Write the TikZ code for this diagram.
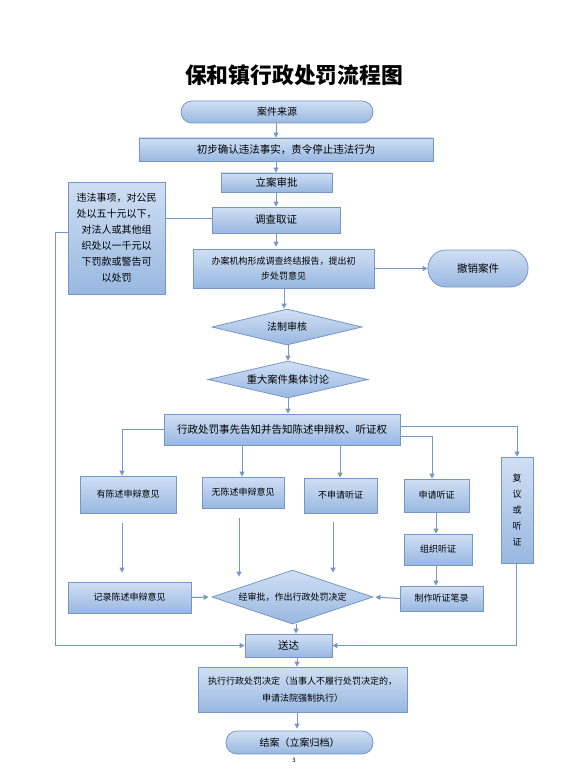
\documentclass[tikz,border=0pt]{standalone}
\usepackage{fontspec}
\setmainfont{Noto Sans CJK SC}
\usetikzlibrary{arrows.meta,shapes.geometric}
\definecolor{boxtop}{RGB}{208,223,243}
\definecolor{boxbot}{RGB}{152,184,225}
\definecolor{edgec}{RGB}{118,150,198}
\newcommand{\fs}[2]{\fontsize{#1}{#2}\selectfont}
\begin{document}
\begin{tikzpicture}[x=1pt,y=-1pt,
  box/.style={draw=edgec, line width=0.8pt, top color=boxtop, bottom color=boxbot, inner sep=0pt, align=center, font=\fs{9}{15}},
  pill/.style={box, rounded corners=11pt},
  dia/.style={box, diamond, aspect=3},
  arr/.style={draw=edgec, line width=1pt, -{Triangle[length=5pt,width=5pt]}},
  ln/.style={draw=edgec, line width=1pt}]
\useasboundingbox (0,0) rectangle (585,770);
\fill[white] (0,0) rectangle (585,770);

% title
\node[font=\fs{21.8}{24}\bfseries] (title) at (294,75) {保和镇行政处罚流程图};

% main column
\node[pill, minimum width=192pt, minimum height=22pt, font=\fs{10}{12}] (src) at (277,112) {案件来源};
\node[box, minimum width=294pt, minimum height=23pt, font=\fs{10.5}{12}] (s1) at (286,149.5) {初步确认违法事实，责令停止违法行为};
\node[box, minimum width=111pt, minimum height=19pt, font=\fs{10.5}{12}] (s2) at (276.5,182.5) {立案审批};
\node[box, minimum width=128pt, minimum height=26pt, font=\fs{10.5}{12}] (s3) at (276,220) {调查取证};
\node[box, minimum width=97pt, minimum height=112pt, font=\fs{10}{16}] (note) at (116.5,238) {违法事项，对公民\\处以五十元以下，\\对法人或其他组\\织处以一千元以\\下罚款或警告可\\以处罚};
\node[box, minimum width=181pt, minimum height=39pt, font=\fs{9}{15}] (s4) at (283.5,268.5) {办案机构形成调查终结报告，提出初\\步处罚意见};
\node[box, rounded corners=18pt, minimum width=100pt, minimum height=37pt, font=\fs{10.5}{12}] (cancel) at (478,268.5) {撤销案件};
\node[dia, minimum width=150pt, minimum height=36pt, font=\fs{10}{12}] (d1) at (287,327) {法制审核};
\node[dia, minimum width=160pt, minimum height=37pt, font=\fs{10.3}{12}] (d2) at (288,379.5) {重大案件集体讨论};
\node[box, minimum width=236pt, minimum height=31pt, font=\fs{10.5}{12}] (s5) at (282,429.5) {行政处罚事先告知并告知陈述申辩权、听证权};

% branches
\node[box, minimum width=96pt, minimum height=37pt] (b1) at (128,494.5) {有陈述申辩意见};
\node[box, minimum width=82pt, minimum height=31pt] (b2) at (243,492.5) {无陈述申辩意见};
\node[box, minimum width=73pt, minimum height=35pt] (b3) at (340.5,495.5) {不申请听证};
\node[box, minimum width=65pt, minimum height=33pt] (b4) at (436.5,495.5) {申请听证};
\node[box, minimum width=32pt, minimum height=106pt, font=\fs{9}{16}] (b5) at (517,510) {复\\议\\或\\听\\证};
\node[box, minimum width=68pt, minimum height=31pt] (b6) at (438,549.5) {组织听证};
\node[box, minimum width=83pt, minimum height=25pt] (b7) at (441.5,598.5) {制作听证笔录};
\node[box, minimum width=123pt, minimum height=31pt] (b8) at (129.5,597.5) {记录陈述申辩意见};
\node[dia, minimum width=161pt, minimum height=54pt] (d3) at (292.5,597) {经审批，作出行政处罚决定};

% bottom
\node[box, minimum width=87pt, minimum height=23pt, font=\fs{10.5}{12}] (s6) at (288.5,645.5) {送达};
\node[box, minimum width=209pt, minimum height=45pt, font=\fs{9}{17}] (s7) at (302.5,689.5) {执行行政处罚决定（当事人不履行处罚决定的，\\申请法院强制执行）};
\node[pill, minimum width=147pt, minimum height=23pt, font=\fs{10}{12}] (end) at (299.5,742.5) {结案（立案归档）};
\node[font=\fs{6}{7}] (pg) at (294,760) {3};

% helper coordinates
\coordinate (xa) at (276,0);
\coordinate (xb) at (284,0);
\coordinate (xc) at (288,0);
\coordinate (xl) at (122,0);
\coordinate (x2) at (239,0);
\coordinate (x2t) at (242,0);
\coordinate (x3) at (333,0);
\coordinate (x3t) at (340,0);
\coordinate (x4) at (436,0);
\coordinate (xd) at (296,0);
\coordinate (xe) at (297,0);
\coordinate (lt) at (55,232);
\coordinate (p4) at (432,436);
\coordinate (p5) at (517,426);
\coordinate (yn) at (0,218);
\coordinate (xr) at (516,0);

% connectors, main column
\draw[arr] (src.south -| xa) -- (s1.north -| xa);
\draw[arr] (s1.south -| xa) -- (s2.north -| xa);
\draw[arr] (s2.south -| xa) -- (s3.north -| xa);
\draw[arr,shorten >=2pt] (s3.south -| xa) -- (s4.north -| xa);
\draw[arr] (s4.south -| xb) -- (d1.north -| xb);
\draw[arr] (d1.south -| xc) -- (d2.north -| xc);
\draw[arr] (d2.south -| xc) -- (s5.north -| xc);
\draw[arr] (s4.east) -- (cancel.west);
\draw[ln] (note.east |- yn) -- (s3.west |- yn);
\draw[arr] (note.west |- lt) -- (lt) |- (s6.west);

% branches from s5
\draw[arr] (s5.west) -| (b1.north -| xl);
\draw[arr] (s5.south -| x2t) -- (b2.north -| x2t);
\draw[arr] (s5.south -| x3t) -- (b3.north -| x3t);
\draw[arr] (s5.east |- p4) -| (b4.north -| p4);
\draw[arr] (s5.east |- p5) -| (b5.north);

% lower arrows
\draw[arr,shorten <=10pt,shorten >=9pt] (b1.south -| xl) -- (b8.north -| xl);
\draw[arr,shorten <=10pt,shorten >=-7pt] (b2.south -| x2) -- (d3.north -| x2);
\draw[arr,shorten <=9pt,shorten >=-3pt] (b3.south -| x3) -- (d3.north -| x3);
\draw[arr] (b4.south -| x4) -- (b6.north -| x4);
\draw[arr] (b6.south -| x4) -- (b7.north -| x4);
\draw[arr,shorten >=2pt] (b7.west) -- (d3.east);
\draw[arr,shorten >=3pt] (b8.east) -- (d3.west);
\draw[arr] (d3.south -| xd) -- (s6.north -| xd);
\draw[arr] (b5.south -| xr) |- (s6.east);
\draw[arr] (s6.south -| xe) -- (s7.north -| xe);
\draw[arr,shorten >=2pt] (s7.south -| xe) -- (end.north -| xe);
\end{tikzpicture}
\end{document}
